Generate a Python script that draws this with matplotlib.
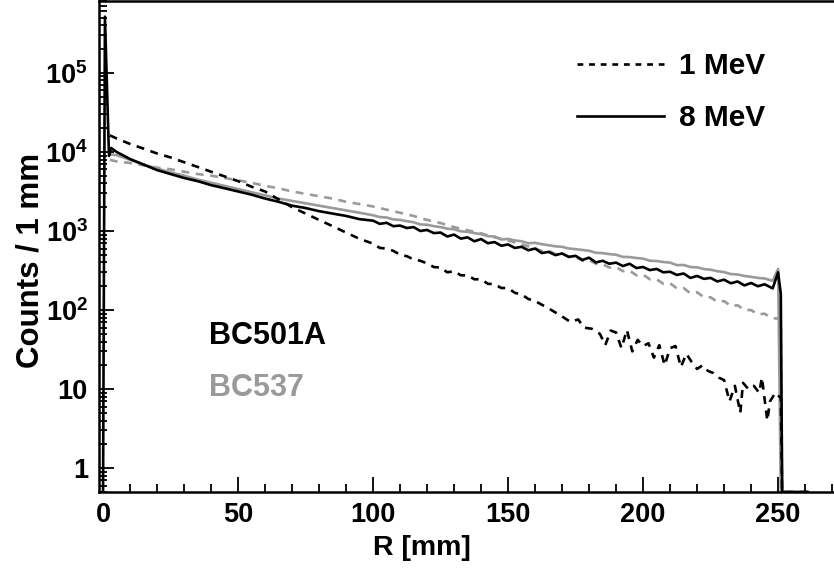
import numpy as np
import matplotlib
matplotlib.use("Agg")
import matplotlib.pyplot as plt
from matplotlib.lines import Line2D
from matplotlib.ticker import MultipleLocator, FuncFormatter, LogLocator, NullFormatter

plt.rcParams['font.family'] = ['Liberation Sans', 'DejaVu Sans']
plt.rcParams['font.weight'] = 'bold'
plt.rcParams['mathtext.fontset'] = 'custom'
plt.rcParams['mathtext.rm'] = 'Liberation Sans:bold'
plt.rcParams['mathtext.bf'] = 'Liberation Sans:bold'

# R [mm] and counts per 1 mm
r_solid_start = [0, 0.7, 2.2, 3, 5, 10, 15, 20, 25, 30, 35, 40, 45, 50, 55, 60, 65, 70, 75, 80, 85, 90, 95]
r_tail = [100, 102.5, 105, 107.5, 110, 112.5, 115, 117.5, 120, 122.5, 125, 127.5, 130, 132.5, 135, 137.5,
          140, 142.5, 145, 147.5, 150, 152.5, 155, 157.5, 160, 162.5, 165, 167.5, 170, 172.5, 175, 177.5,
          180, 182.5, 185, 187.5, 190, 192.5, 195, 197.5, 200, 202.5, 205, 207.5, 210, 212.5, 215, 217.5,
          220, 222.5, 225, 227.5, 230, 232.5, 235, 237.5, 240, 242.5, 245, 248, 250, 251, 251.5, 261]

# BC501A, 8 MeV
bc501a_8mev = [0, 513000, 8900, 11200, 10000, 8130, 6920, 5890, 5250, 4680, 4270, 3800, 3470, 3160, 2880,
               2570, 2340, 2090, 1950, 1780, 1660, 1550, 1410,
               1350, 1230, 1270, 1150, 1170, 1090, 1120, 1000, 1030, 940, 955, 851, 900, 800, 832, 741,
               790, 700, 724, 650, 676, 610, 631, 570, 600, 525, 545, 495, 520, 470, 485, 430,
               460, 400, 420, 385, 398, 360, 385, 340, 350, 320, 331, 300, 305, 278, 290, 255,
               270, 248, 255, 230, 242, 218, 230, 205, 220, 200, 212, 188, 300, 160, 0, 0]

# BC537, 8 MeV
r_bc537_start = [2.5, 5, 10, 15, 20, 25, 30, 35, 40, 45, 50, 55, 60, 65, 70, 75, 80, 85, 90, 95]
bc537_8mev = [9330, 9120, 7940, 6920, 6170, 5500, 5010, 4470, 4070, 3720, 3390, 3090, 2820, 2570, 2400,
              2240, 2090, 1950, 1820, 1700,
              1580, 1500, 1480, 1400, 1380, 1330, 1290, 1210, 1200, 1150, 1120, 1070, 1050, 990, 977, 940,
              912, 860, 851, 780, 794, 760, 741, 700, 708, 680, 661, 640, 631, 600, 589, 575,
              562, 530, 525, 510, 501, 470, 468, 455, 447, 420, 417, 405, 398, 370, 372, 350,
              347, 330, 324, 310, 302, 285, 282, 270, 263, 255, 251, 234, 331, 0, 0, 0]

# BC501A, 1 MeV
r_bc501a_1mev = [2.5, 5, 10, 15, 20, 25, 30, 35, 40, 45, 50, 55, 60, 65, 70, 75, 80, 85, 90, 95,
                 100, 102.5, 105, 107.5, 110, 112.5, 115, 117.5, 120, 122.5, 125, 127.5, 130, 132.5,
                 135, 137.5, 140, 142.5, 145, 147.5, 150, 152.5, 155, 157.5, 160, 165, 170, 173, 176,
                 178, 181, 184, 186, 188, 190, 192, 194, 196, 198, 200, 202, 204, 206, 208, 210, 212,
                 214, 216, 218, 220, 222, 224, 226, 228, 230, 232, 234, 236, 237, 239, 241, 243, 244,
                 246, 247, 249, 250.5, 251, 251.5, 261]
bc501a_1mev = [16200, 14800, 12600, 11000, 9550, 8510, 7410, 6460, 5620, 4900, 4270, 3630, 3160, 2510,
               2000, 1660, 1380, 1150, 955, 794,
               692, 610, 600, 560, 501, 480, 437, 420, 389, 350, 345, 300, 310, 275,
               275, 245, 245, 215, 212, 190, 190, 165, 158, 138, 130, 105, 83, 71, 76,
               60, 58, 50, 36, 55, 52, 33, 56, 30, 42, 35, 38, 25, 36, 20, 33, 35,
               19, 28, 22, 18, 20, 17, 16, 14, 13, 7, 11, 5, 12, 10, 11, 9, 14,
               4, 7, 9, 8, 8, 0, 0]

# BC537, 1 MeV
r_bc537_1mev = [2.5, 5, 10, 15, 20, 25, 30, 35, 40, 45, 50, 55, 60, 65, 70, 75, 80, 85, 90, 95, 100,
                105, 110, 115, 120, 125, 130, 135, 140, 145, 150, 155, 160, 162.5, 165, 167.5, 170,
                172.5, 175, 177.5, 180, 182.5, 185, 187.5, 190, 192.5, 195, 197.5, 200, 202.5, 205,
                207.5, 210, 212.5, 215, 217.5, 220, 222.5, 225, 227.5, 230, 232.5, 235, 237.5, 240,
                242.5, 245, 247.5, 250, 251, 251.5, 261]
bc537_1mev = [7940, 7590, 7240, 6760, 6310, 6030, 5620, 5250, 5010, 4680, 4370, 4070, 3720, 3470, 3160,
              2950, 2750, 2570, 2340, 2190, 2040, 1860, 1700, 1550, 1380, 1260, 1120, 1020, 933, 832,
              759, 676, 603, 560, 565, 510, 515, 470, 470, 420, 430, 385, 380, 345, 350, 310, 315,
              275, 280, 245, 245, 215, 218, 188, 190, 163, 168, 145, 145, 127, 130, 112, 115, 100,
              100, 88, 90, 79, 78, 72, 0, 0]

y_lo, y_hi = 0.5, 8.1e5
gray = '#9a9a9a'

fig = plt.figure(figsize=(8.34, 5.69), dpi=100)
ax = fig.add_axes([99 / 834, 77 / 569, 735 / 834, 491 / 569])

def floor(v):
    # empty bins drawn on the axis bottom, like ROOT
    return np.maximum(np.asarray(v, dtype=float), y_lo)

lw = 1.9
ax.plot(r_bc537_1mev, floor(bc537_1mev), color=gray, lw=lw, dashes=(3, 2.5))
ax.plot(r_bc537_start + r_tail[:-1], floor(bc537_8mev[:len(r_bc537_start) + len(r_tail) - 1]), color=gray, lw=lw)
ax.plot(r_bc501a_1mev, floor(bc501a_1mev), color='black', lw=lw, dashes=(3, 2.5))
ax.plot(r_solid_start + r_tail, floor(bc501a_8mev), color='black', lw=lw)

ax.set_yscale('log')
ax.set_xlim(-1.5, 270.7)
ax.set_ylim(y_lo, y_hi)

ax.xaxis.set_major_locator(MultipleLocator(50))
ax.xaxis.set_minor_locator(MultipleLocator(10))
ax.yaxis.set_major_locator(LogLocator(base=10, numticks=10))
ax.yaxis.set_minor_locator(LogLocator(base=10, subs=np.arange(2, 10), numticks=20))
ax.yaxis.set_minor_formatter(NullFormatter())

def ylab(v, pos):
    e = int(round(np.log10(v)))
    if e == 0:
        return '1'
    if e == 1:
        return '10'
    return r'$\mathbf{10^{%d}}$' % e

ax.yaxis.set_major_formatter(FuncFormatter(ylab))
ax.tick_params(which='both', direction='in', top=False, right=False, labelsize=19.5, width=1.3)
ax.tick_params(which='major', length=11)
ax.tick_params(which='minor', length=5.5)
ax.tick_params(axis='y', pad=8)
ax.tick_params(axis='x', pad=7)
for lab in ax.get_xticklabels() + ax.get_yticklabels():
    lab.set_fontweight('bold')

ax.spines['right'].set_visible(False)
for s in ['left', 'bottom', 'top']:
    ax.spines[s].set_linewidth(1.8)

ax.set_xlabel('R [mm]', fontsize=20.5, fontweight='bold')
ax.set_ylabel('Counts / 1 mm', fontsize=22.5, fontweight='bold')
ax.xaxis.set_label_coords(0.44, -0.087)
ax.yaxis.set_label_coords(-0.073, 0.472)

ax.text(0.150, 0.318, 'BC501A', transform=ax.transAxes, fontsize=22, fontweight='bold',
        color='black', va='center', ha='left')
ax.text(0.150, 0.212, 'BC537', transform=ax.transAxes, fontsize=22, fontweight='bold',
        color=gray, va='center', ha='left')

handles = [Line2D([], [], color='black', lw=lw, dashes=(2.2, 2.2)),
           Line2D([], [], color='black', lw=lw)]
ax.legend(handles, ['1 MeV', '8 MeV'], loc='upper left', bbox_to_anchor=(577 / 834, 517 / 569),
          bbox_transform=fig.transFigure, frameon=False, prop={'weight': 'bold', 'size': 21.5},
          borderpad=0, borderaxespad=0, handlelength=2.9, handletextpad=0.52, labelspacing=0.82)

fig.savefig('out.png', dpi=100)
